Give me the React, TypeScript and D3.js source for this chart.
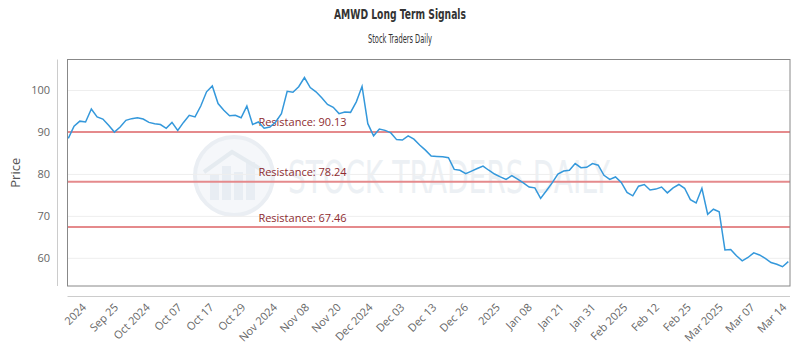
import * as d3 from "d3";

// AMWD closing prices, one per trading session
const PRICES = [
  88.6, 91.5, 92.7, 92.5, 95.6, 93.7, 93.2, 91.7, 90.1, 91.3,
  92.9, 93.3, 93.5, 93.2, 92.4, 92.1, 91.9, 91.0, 92.4, 90.5,
  92.4, 94.1, 93.7, 96.3, 99.7, 101.1, 96.9, 95.3, 94.0, 94.1,
  93.5, 96.3, 91.9, 92.5, 91.0, 91.3, 92.5, 94.5, 99.8, 99.6,
  100.9, 103.1, 100.7, 99.7, 98.3, 96.7, 96.0, 94.5, 94.9, 94.8,
  97.3, 101.0, 92.1, 89.2, 90.8, 90.5, 89.9, 88.3, 88.2, 89.2,
  88.4, 87.0, 85.8, 84.4, 84.3, 84.2, 84.0, 81.2, 81.0, 80.2,
  80.8, 81.4, 82.0, 81.0, 80.1, 79.4, 78.8, 79.7, 78.9, 78.0,
  77.0, 76.8, 74.3, 76.1, 78.0, 80.1, 80.8, 81.0, 82.6, 81.6,
  81.7, 82.6, 82.2, 79.8, 78.8, 79.4, 78.1, 75.7, 74.9, 77.2,
  77.6, 76.3, 76.5, 77.0, 75.6, 76.8, 77.6, 76.7, 74.0, 73.2,
  76.7, 70.5, 71.7, 71.1, 62.0, 62.1, 60.6, 59.4, 60.2, 61.3,
  60.8, 60.0, 59.0, 58.6, 58.0, 59.2,
];

const TICK_LABELS = [
  "2024", "Sep 25", "Oct 2024", "Oct 07", "Oct 17", "Oct 29",
  "Nov 2024", "Nov 08", "Nov 20", "Dec 2024", "Dec 03", "Dec 13",
  "Dec 26", "2025", "Jan 08", "Jan 21", "Jan 31", "Feb 2025",
  "Feb 12", "Feb 25", "Mar 2025", "Mar 07", "Mar 14",
];

const RESISTANCE = [90.13, 78.24, 67.46];
const Y_TICKS = [60, 70, 80, 90, 100];
const Y_DOMAIN: [number, number] = [53.4, 107.4];

const WIDTH = 800;
const HEIGHT = 350;
const PLOT = { left: 67.5, right: 790, top: 59.5, bottom: 286 };
const RES_LABEL_INDEX = 33; // resistance labels sit above this session

const TICK_FONT = "'Open Sans', 'Noto Sans', sans-serif";
const TITLE_FONT = "'Liberation Sans Narrow', 'DejaVu Sans Condensed', sans-serif";

export default function App() {
  const x = d3
    .scaleLinear()
    .domain([0, PRICES.length - 1])
    .range([PLOT.left + 0.8, PLOT.right - 1.7]);

  const y = d3.scaleLinear().domain(Y_DOMAIN).range([PLOT.bottom, PLOT.top]);

  const xTicks = d3
    .scalePoint<string>()
    .domain(TICK_LABELS)
    .range([x(3.25), x(PRICES.length - 1) - 1]);

  const line = d3
    .line<number>()
    .x((_, i) => x(i))
    .y((d) => y(d));

  const wmX = 234;
  const wmY = 176;

  return (
    <svg
      width={WIDTH}
      height={HEIGHT}
      style={{ position: "absolute", left: 0, top: 0, background: "#fff" }}
    >
      {/* Title block */}
      <text
        x={WIDTH / 2}
        y={19}
        textAnchor="middle"
        fontFamily={TITLE_FONT}
        fontWeight="bold"
        fontSize={14.5}
        fill="#333"
        textLength={132}
        lengthAdjust="spacingAndGlyphs"
      >
        AMWD Long Term Signals
      </text>
      <text
        x={WIDTH / 2}
        y={43}
        textAnchor="middle"
        fontFamily={TITLE_FONT}
        fontSize={12}
        fill="#333"
        textLength={64}
        lengthAdjust="spacingAndGlyphs"
      >
        Stock Traders Daily
      </text>

      {/* Watermark */}
      <g opacity={0.9}>
        <circle cx={wmX} cy={wmY} r={39} fill="#f4f7fa" stroke="#e8edf2" strokeWidth={4} />
        <rect x={wmX - 24} y={wmY - 2} width={9} height={26} fill="#e6ecf2" />
        <rect x={wmX - 12} y={wmY - 10} width={9} height={34} fill="#e6ecf2" />
        <rect x={wmX} y={wmY - 4} width={9} height={28} fill="#e6ecf2" />
        <rect x={wmX + 12} y={wmY - 14} width={9} height={38} fill="#e6ecf2" />
        <polyline
          points={`${wmX - 30},${wmY - 4} ${wmX - 2},${wmY - 24} ${wmX + 28},${wmY - 6}`}
          fill="none"
          stroke="#e3e9ef"
          strokeWidth={4}
        />
        <text
          x={288}
          y={193}
          fontFamily="'DejaVu Sans Condensed', 'DejaVu Sans', sans-serif"
          fontSize={44}
          fill="#ebeff3"
          textLength={322}
          lengthAdjust="spacingAndGlyphs"
        >
          STOCK TRADERS DAILY
        </text>
      </g>

      {/* Grid */}
      {Y_TICKS.map((t) => (
        <line
          key={`g${t}`}
          x1={PLOT.left}
          x2={PLOT.right}
          y1={y(t)}
          y2={y(t)}
          stroke="#eeeeee"
          strokeWidth={1}
        />
      ))}

      {/* Y axis */}
      <line x1={57.5} x2={57.5} y1={PLOT.top} y2={PLOT.bottom} stroke="#cccccc" />
      {Y_TICKS.map((t) => (
        <text
          key={`y${t}`}
          x={50}
          y={y(t)}
          dy="0.35em"
          textAnchor="end"
          fontFamily={TICK_FONT}
          fontSize={11}
          fill="#666"
        >
          {t}
        </text>
      ))}
      <text
        transform={`translate(20, ${(PLOT.top + PLOT.bottom) / 2}) rotate(-90)`}
        textAnchor="middle"
        fontFamily={TICK_FONT}
        fontSize={13}
        fill="#555"
      >
        Price
      </text>

      {/* Resistance lines */}
      {RESISTANCE.map((r) => (
        <g key={`r${r}`}>
          <line
            x1={PLOT.left}
            x2={PLOT.right}
            y1={y(r)}
            y2={y(r)}
            stroke="#e58a8c"
            strokeWidth={2}
          />
          <text
            x={x(RES_LABEL_INDEX)}
            y={y(r) - 5.5}
            fontFamily={TICK_FONT}
            fontSize={11}
            fill="#8e2c30"
          >
            {`Resistance: ${r.toFixed(2)}`}
          </text>
        </g>
      ))}

      {/* Price line */}
      <path d={line(PRICES) ?? ""} fill="none" stroke="#3498db" strokeWidth={1.5} />

      {/* Plot frame */}
      <rect
        x={PLOT.left}
        y={PLOT.top}
        width={PLOT.right - PLOT.left}
        height={PLOT.bottom - PLOT.top}
        fill="none"
        stroke="#888"
        strokeWidth={1}
      />

      {/* X axis */}
      <line x1={PLOT.left} x2={PLOT.right} y1={296.5} y2={296.5} stroke="#cccccc" />
      {TICK_LABELS.map((label) => (
        <text
          key={label}
          transform={`translate(${xTicks(label)}, 308) rotate(-45)`}
          textAnchor="end"
          fontFamily={TICK_FONT}
          fontSize={11}
          fill="#666"
        >
          {label}
        </text>
      ))}
    </svg>
  );
}
